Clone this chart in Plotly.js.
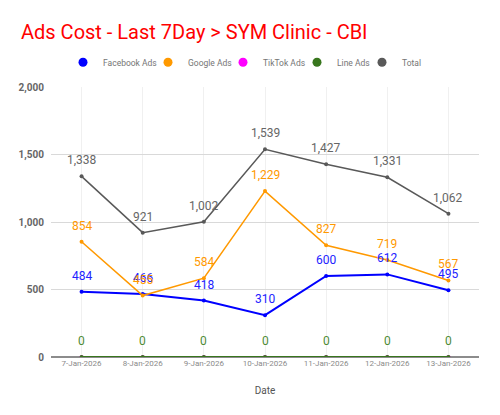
<!DOCTYPE html>
<html>
<head>
<meta charset="utf-8">
<script src="https://cdn.plot.ly/plotly-3.0.1.min.js"></script>
<style>
  html, body { margin: 0; padding: 0; background: #fff; }
  #chart { width: 500px; height: 415px; }
</style>
</head>
<body>
<div id="chart"></div>
<script>
// Daily ad spend per channel
const dates = ['7-Jan-2026', '8-Jan-2026', '9-Jan-2026', '10-Jan-2026', '11-Jan-2026', '12-Jan-2026', '13-Jan-2026'];
const facebookAds = [484, 466, 418, 310, 600, 612, 495];
const googleAds = [854, 455, 584, 1229, 827, 719, 567];
const tiktokAds = [0, 0, 0, 0, 0, 0, 0];
const lineAds = [0, 0, 0, 0, 0, 0, 0];
const totalCost = [1338, 921, 1002, 1539, 1427, 1331, 1062];

const yTicks = [0, 500, 1000, 1500, 2000];

const seriesDefs = [
  { name: 'Facebook Ads', values: facebookAds, color: '#0000ff', label: '#2222ff', width: 2, labels: true, legendW: 40 },
  { name: 'Google Ads', values: googleAds, color: '#ff9900', label: '#ff9900', width: 1.5, labels: true, legendW: 30 },
  { name: 'TikTok Ads', values: tiktokAds, color: '#ff00ff', label: '#ff00ff', width: 2, labels: false, legendW: 29 },
  { name: 'Line Ads', values: lineAds, color: '#38761d', label: '#4e8a34', width: 2, labels: true, legendW: 20 },
  { name: 'Total', values: totalCost, color: '#595959', label: '#666666', width: 1.5, labels: true, legendW: 20 }
];

const fmt = v => v.toLocaleString('en-US');

const traces = [];
// plotted lines
seriesDefs.forEach(s => {
  traces.push({
    type: 'scatter', mode: 'lines+markers',
    x: dates, y: s.values, name: s.name,
    line: { color: s.color, width: s.width },
    marker: { color: s.color, size: 4 },
    showlegend: false, hoverinfo: 'skip'
  });
});
// legend entries drawn as plain dots
seriesDefs.forEach(s => {
  traces.push({
    type: 'scatter', mode: 'markers',
    x: [null], y: [null], name: s.name,
    marker: { color: s.color, size: 9 },
    legendwidth: s.legendW,
    showlegend: true
  });
});

// value labels above each point
const annotations = [];
seriesDefs.forEach(s => {
  if (!s.labels) return;
  s.values.forEach((v, i) => {
    annotations.push({
      x: dates[i], y: v, xref: 'x', yref: 'y',
      text: fmt(v), showarrow: false, yshift: 16,
      font: { family: 'Roboto, sans-serif', size: 12, color: s.label }
    });
  });
});

const layout = {
  width: 500, height: 415,
  margin: { l: 51, r: 21, t: 87, b: 58 },
  paper_bgcolor: '#ffffff', plot_bgcolor: '#ffffff',
  font: { family: 'Roboto, sans-serif' },
  title: {
    text: 'Ads Cost - Last 7Day > SYM Clinic - CBI',
    x: 0.042, xanchor: 'left', y: 0.923, yanchor: 'middle',
    font: { family: 'Roboto, sans-serif', size: 20, color: '#ff0000' }
  },
  legend: {
    orientation: 'h',
    xref: 'container', x: 0.49, xanchor: 'center',
    yref: 'container', y: 0.85, yanchor: 'middle',
    font: { family: 'Roboto, sans-serif', size: 8.5, color: '#757575' },
    itemwidth: 30
  },
  xaxis: {
    type: 'category', range: [-0.5, 6.5],
    showgrid: true, gridcolor: '#f0f0f0', gridwidth: 1,
    showline: false, ticks: '',
    tickfont: { family: 'Roboto, sans-serif', size: 8, color: '#8a8a8a' },
    title: { text: 'Date', font: { family: 'Roboto, sans-serif', size: 10, color: '#555555' }, standoff: 19 },
    fixedrange: true
  },
  yaxis: {
    range: [0, 2000], tickvals: yTicks, ticktext: yTicks.map(fmt),
    showgrid: true, gridcolor: '#d9d9d9', gridwidth: 1,
    zeroline: true, zerolinecolor: '#8c8c8c', zerolinewidth: 1.5,
    showline: false, ticks: '',
    tickfont: { family: 'Roboto, sans-serif', size: 10, color: '#666666', weight: 'bold' },
    ticklabelstandoff: 6,
    fixedrange: true
  },
  annotations: annotations,
  showlegend: true
};

Plotly.newPlot('chart', traces, layout, { displayModeBar: false, staticPlot: true });
</script>
</body>
</html>
